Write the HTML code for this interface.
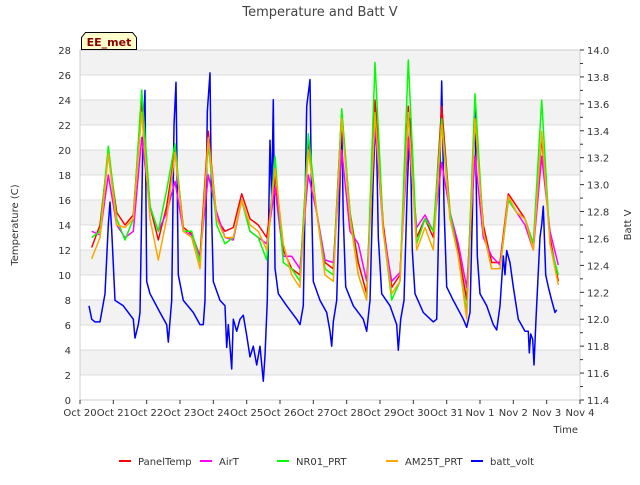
<!DOCTYPE html>
<html><head><meta charset="utf-8"><style>
body{margin:0;background:#fff;font-family:"Liberation Sans","DejaVu Sans",sans-serif;}
svg text{font-family:"DejaVu Sans","Liberation Sans",sans-serif;}
</style></head><body>
<svg id="chart" width="640" height="480" xmlns="http://www.w3.org/2000/svg">
<text x="320" y="16" text-anchor="middle" font-size="13" fill="#444">Temperature and Batt V</text>
<g id="bands"></g>
<g id="grid"></g>
<rect x="80" y="50" width="500" height="350" fill="none" stroke="#ccc"/>
<g id="series"></g>
<g id="axes"></g>
<path d="M81.5,49.5 L81.5,37.5 L85.5,32.5 L132.5,32.5 L136.5,37.5 L136.5,49.5 Z" fill="#ffffcc" stroke="#000"/>
<text x="109" y="46" text-anchor="middle" font-size="11" font-weight="bold" fill="#8b0000">EE_met</text>
<text transform="translate(18,225) rotate(-90)" text-anchor="middle" font-size="10" fill="#333">Temperature (C)</text>
<text transform="translate(631,225) rotate(-90)" text-anchor="middle" font-size="10" fill="#333">Batt V</text>
<text x="578" y="433" text-anchor="end" font-size="10" fill="#333">Time</text>
<g id="legend"></g>
</svg>
<script>
const times=[0.35,0.6,0.85,1.1,1.35,1.6,1.85,2.1,2.35,2.6,2.85,3.1,3.35,3.6,3.85,4.1,4.35,4.6,4.85,5.1,5.35,5.6,5.85,6.1,6.35,6.6,6.85,7.1,7.35,7.6,7.85,8.1,8.35,8.6,8.85,9.1,9.35,9.6,9.85,10.1,10.35,10.6,10.85,11.1,11.35,11.6,11.85,12.1,12.35,12.6,12.85,13.1,13.35,13.6,13.85,14.1,14.35];
const panelTemp=[12.2,14,19.8,15,14,14.8,24,15.5,12.8,15.5,20,13.8,13.3,11.5,21.5,14.5,13.5,13.8,16.5,14.5,14,13,18,12,10.5,10,20.5,15,11,10.5,23,15,11,8.5,24,14,9,10,23.5,13,14.5,13,23.5,15,12,8,22.5,14,11,11,16.5,15.5,14.5,12.5,21,13,9.5];
const airT=[13.5,13.2,18,14,13,13.5,21,15.5,13.5,15,17.5,13.5,13.2,11.5,18,15,13,12.8,16,13.5,13,12.5,17,11.5,11.5,10.5,18,15,11.2,11,20,13.5,12.5,9.5,22,13.5,9.5,10.2,21,13.8,14.8,13.5,19,15,12.5,9,19.5,13,11.5,10.8,16,15,14,12,19.5,13.5,10.8];
const nr01=[13,13.5,20.3,14.5,12.8,14.5,24.8,15.5,13.5,16.8,20.5,13.5,13.5,11,20.5,14,12.5,13,16,13.5,13,11.2,19.5,11,10.5,9.5,21.3,15,10.5,10,23.3,15,10,8,27,13.5,8,9.5,27.2,12.5,14.5,13.5,22.5,15,11.5,7,24.5,13.5,10.5,10.5,16,15,14.5,12.5,24,12.5,10];
const am25t=[11.3,13,19.7,14,13.8,14.5,23,14.5,11.2,14.5,19.8,13.5,13,10.5,21,14.5,13,13,16,14,13.5,12,18.5,12.5,10,9,20,15,10,9.5,22.5,14.5,10,8,23,13.5,8.5,9.5,23,12,13.8,12,22,14.5,11.5,6.5,22.5,13.5,10.5,10.5,16.3,15,14.5,12,21.5,12.5,9.2];
const voltTimes=[0.27,0.35,0.45,0.6,0.75,0.85,0.9,0.95,1.05,1.3,1.6,1.65,1.75,1.8,1.88,1.95,2.0,2.1,2.4,2.6,2.65,2.75,2.82,2.88,2.95,3.1,3.4,3.6,3.7,3.75,3.82,3.9,3.95,4.0,4.2,4.35,4.4,4.45,4.55,4.6,4.7,4.8,4.9,5.0,5.1,5.2,5.3,5.4,5.5,5.55,5.62,5.7,5.75,5.8,5.85,5.95,6.2,6.5,6.6,6.7,6.8,6.9,6.95,7.0,7.2,7.4,7.5,7.55,7.6,7.7,7.78,7.85,7.9,7.97,8.2,8.5,8.6,8.7,8.8,8.88,8.95,9.05,9.3,9.5,9.55,9.62,9.72,9.82,9.9,9.97,10.05,10.3,10.6,10.7,10.78,10.85,10.92,11.0,11.2,11.5,11.6,11.7,11.78,11.85,11.92,12.0,12.2,12.4,12.5,12.6,12.7,12.75,12.8,12.9,13.0,13.15,13.35,13.45,13.48,13.52,13.58,13.62,13.68,13.8,13.85,13.9,13.97,14.05,14.15,14.25,14.3];
const battVolt=[12.1,12.0,11.98,11.98,12.19,12.7,12.87,12.66,12.14,12.1,12.0,11.86,11.96,12.05,13.26,13.70,12.28,12.19,12.05,11.96,11.83,12.14,13.44,13.76,12.33,12.14,12.05,11.96,11.96,12.14,13.54,13.83,12.75,12.28,12.14,12.1,11.79,11.96,11.63,12.0,11.91,12.0,12.03,11.88,11.72,11.8,11.66,11.8,11.54,11.73,12.14,13.33,12.89,13.63,12.38,12.19,12.1,12.0,11.96,12.1,13.58,13.78,12.84,12.28,12.14,12.05,11.91,11.8,11.98,12.14,12.84,13.47,12.75,12.24,12.1,12.0,11.91,12.14,13.07,13.54,12.61,12.19,12.1,11.96,11.77,12.0,12.14,12.98,13.49,12.51,12.19,12.05,11.98,12.0,12.89,13.77,12.84,12.24,12.14,12.0,11.94,12.05,12.89,13.63,12.47,12.19,12.1,11.96,11.92,12.1,12.47,12.33,12.51,12.42,12.24,12.0,11.91,11.91,11.75,11.89,11.85,11.66,12.0,12.61,12.7,12.84,12.33,12.24,12.14,12.05,12.07];
const xTickLabels=["Oct 20","Oct 21","Oct 22","Oct 23","Oct 24","Oct 25","Oct 26","Oct 27","Oct 28","Oct 29","Oct 30","Oct 31","Nov 1","Nov 2","Nov 3","Nov 4"];
const yTicks=[0,2,4,6,8,10,12,14,16,18,20,22,24,26,28];
const y2Ticks=[11.4,11.6,11.8,12.0,12.2,12.4,12.6,12.8,13.0,13.2,13.4,13.6,13.8,14.0];

const NS="http://www.w3.org/2000/svg";
const X0=80,X1=580,Y0=400,Y1=50;
const xS=d=>X0+(X1-X0)*d/15;
const yS=v=>Y0-(Y0-Y1)*v/28;
const y2S=v=>Y0-(Y0-Y1)*(v-11.4)/2.6;
function mk(tag,attrs,parent){const e=document.createElementNS(NS,tag);for(const k in attrs)e.setAttribute(k,attrs[k]);parent.appendChild(e);return e;}
const bands=document.getElementById('bands'),grid=document.getElementById('grid'),axes=document.getElementById('axes'),series=document.getElementById('series'),legend=document.getElementById('legend');
for(let i=0;i<yTicks.length-1;i++){
  if(i%2===1){const r=mk('rect',{x:X0,y:yS(yTicks[i+1]),width:X1-X0,height:yS(yTicks[i])-yS(yTicks[i+1]),fill:'#f2f2f2'},bands);
  
  }
}
yTicks.forEach(v=>{
  const l=mk('line',{x1:X0,x2:X1,y1:yS(v),y2:yS(v),stroke:'#dcdcdc'},grid);
  
  
  const t=mk('text',{x:X0-9,y:yS(v)+4,'text-anchor':'end','font-size':'10',fill:'#333'},axes);t.textContent=v;
  
  
});
y2Ticks.forEach((v,i)=>{
  const t=mk('text',{x:X1+7,y:y2S(v)+4,'font-size':'10',fill:'#333'},axes);t.textContent=v.toFixed(1);
  
  
  const tk=mk('line',{x1:X1,x2:X1+4,y1:y2S(v),y2:y2S(v),stroke:'#333'},axes);
  
  
  if(i<y2Ticks.length-1){const m=mk('line',{x1:X1,x2:X1+3,y1:y2S(v+0.1),y2:y2S(v+0.1),stroke:'#333'},axes);
  
  }
});
xTickLabels.forEach((s,i)=>{
  const t=mk('text',{x:xS(i),y:416,'text-anchor':'middle','font-size':'10',fill:'#333'},axes);t.textContent=s;
  
  
  const tk=mk('line',{x1:xS(i),x2:xS(i),y1:Y0,y2:Y0+4,stroke:'#333'},axes);
  
  
});
function drawLine(ts,vs,scale,color,name){
  const p=ts.map((t,i)=>(i?'L':'M')+xS(t).toFixed(1)+','+scale(vs[i]).toFixed(1)).join('');
  const e=mk('path',{d:p,fill:'none',stroke:color,'stroke-width':'1.5','stroke-linejoin':'round'},series);
  
  
}
drawLine(voltTimes,battVolt,y2S,'#0000ff','series-batt-volt');
drawLine(times,panelTemp,yS,'#ff0000','series-panel-temp');
drawLine(times,airT,yS,'#ff00ff','series-air-t');
drawLine(times,nr01,yS,'#00ff00','series-nr01-prt');
drawLine(times,am25t,yS,'#ffa500','series-am25t-prt');
const legendItems=[["PanelTemp","#ff0000",119],["AirT","#ff00ff",200],["NR01_PRT","#00ff00",277],["AM25T_PRT","#ffa500",386],["batt_volt","#0000ff",471]];
legendItems.forEach(([n,c,x])=>{
  const g=mk('g',{},legend);
  
  
  mk('line',{x1:x,x2:x+12,y1:461,y2:461,stroke:c,'stroke-width':'2'},g);
  const t=mk('text',{x:x+19,y:465,'font-size':'10',fill:'#333'},g);t.textContent=n;
});
</script>
</body></html>
